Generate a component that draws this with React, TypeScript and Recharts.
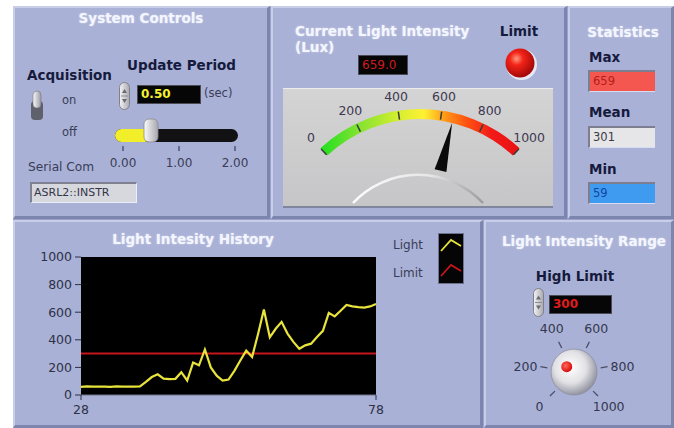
import React from "react";
import {
  Bar,
  BarChart,
  CartesianGrid,
  Legend,
  Line,
  LineChart,
  PolarAngleAxis,
  RadialBar,
  RadialBarChart,
  ReferenceLine,
  XAxis,
  YAxis,
} from "recharts";

// history graph
const historyTime = [
  28, 29, 30, 31, 32, 33, 34, 35, 36, 37, 38, 39, 40, 41, 42, 43, 44, 45, 46, 47, 48, 49, 50, 51, 52,
  53, 54, 55, 56, 57, 58, 59, 60, 61, 62, 63, 64, 65, 66, 67, 68, 69, 70, 71, 72, 73, 74, 75, 76, 77, 78,
];
const historyLux = [
  59, 62, 60, 61, 60, 59, 62, 60, 61, 60, 63, 95, 130, 150, 118, 115, 117, 165, 105, 235, 215, 330, 200,
  140, 105, 112, 175, 250, 322, 275, 440, 620, 418, 480, 530, 445, 385, 335, 360, 372, 420, 465, 595,
  570, 610, 652, 642, 637, 633, 642, 659,
];
const historyYTicks = [0, 200, 400, 600, 800, 1000];
const historyXTicks = [28, 78];
const legendItems = [
  { label: "Light", color: "#e8e43c" },
  { label: "Limit", color: "#c4161c" },
];

// indicators
const currentLux = 659.0;
const gaugeTicks = [0, 200, 400, 600, 800, 1000];
const statMax = 659;
const statMean = 301;
const statMin = 59;

// controls
const highLimit = 300;
const knobTicks = [0, 200, 400, 600, 800, 1000];
const updatePeriod = 0.5;
const periodTicks = [0, 1, 2];
const serialPort = "ASRL2::INSTR";

const FONT = '"DejaVu Sans", Verdana, sans-serif';
const LABEL = "#161a3c";
const SOFT = "#3a3d58";

const historyData = historyTime.map((t, i) => ({ t, light: historyLux[i] }));
const gaugeData = [{ name: "lux", lux: currentLux }];
const knobData = [{ name: "high", limit: highLimit }];
const periodData = [{ name: "period", value: updatePeriod }];

function polar(cx: number, cy: number, r: number, deg: number) {
  const a = (-deg * Math.PI) / 180;
  return { x: cx + r * Math.cos(a), y: cy + r * Math.sin(a) };
}

function Panel({ x, y, w, h }: { x: number; y: number; w: number; h: number }) {
  return (
    <div
      style={{
        position: "absolute",
        left: x,
        top: y,
        width: w,
        height: h,
        boxSizing: "border-box",
        background: "#a9b1d6",
        borderTop: "2px solid #c8cee9",
        borderLeft: "2px solid #c8cee9",
        borderRight: "3px solid #7c85ae",
        borderBottom: "3px solid #7c85ae",
      }}
    />
  );
}

function Txt(props: {
  x: number;
  y: number;
  children: React.ReactNode;
  size?: number;
  bold?: boolean;
  color?: string;
  center?: boolean;
  title?: boolean;
}) {
  const { x, y, children, bold, color = LABEL, center, title } = props;
  const size = props.size ?? (bold || title ? 13.5 : 12);
  return (
    <div
      style={{
        position: "absolute",
        left: x,
        top: y,
        transform: `translate(${center ? "-50%" : "0"}, -50%)`,
        fontSize: size,
        lineHeight: `${size}px`,
        fontWeight: bold || title ? 700 : 400,
        color: title ? "#f4f6ff" : color,
        whiteSpace: "nowrap",
        textShadow: title ? "0 0 2px rgba(255,255,255,0.55)" : undefined,
      }}
    >
      {children}
    </div>
  );
}

function Display(props: { x: number; y: number; w: number; h: number; text: string; color: string; bold?: boolean }) {
  const { x, y, w, h, text, color, bold } = props;
  return (
    <div
      style={{
        position: "absolute",
        left: x,
        top: y,
        width: w,
        height: h,
        boxSizing: "border-box",
        background: "#060606",
        border: "1px solid #4a4a55",
        color,
        fontSize: 12,
        fontWeight: bold ? 700 : 400,
        lineHeight: `${h - 2}px`,
        paddingLeft: 3,
      }}
    >
      {text}
    </div>
  );
}

function StatBox(props: { y: number; text: string; bg: string; color: string }) {
  return (
    <div
      style={{
        position: "absolute",
        left: 588,
        top: props.y,
        width: 67,
        height: 22,
        boxSizing: "border-box",
        background: props.bg,
        borderTop: "2px solid #7d7f90",
        borderLeft: "2px solid #7d7f90",
        borderBottom: "1px solid #d8dcf0",
        color: props.color,
        fontSize: 11.5,
        lineHeight: "19px",
        paddingLeft: 3,
      }}
    >
      {props.text}
    </div>
  );
}

function Spinner({ x, y, h }: { x: number; y: number; h: number }) {
  return (
    <svg style={{ position: "absolute", left: x, top: y }} width={11} height={h}>
      <defs>
        <linearGradient id={`spin${x}`} x1="0" y1="0" x2="1" y2="0">
          <stop offset="0" stopColor="#f4f4f4" />
          <stop offset="1" stopColor="#a8a8b0" />
        </linearGradient>
      </defs>
      <rect x={0.5} y={0.5} width={10} height={h - 1} rx={5} fill={`url(#spin${x})`} stroke="#80808a" />
      <path d={`M3 ${h / 2 - 3} L5.5 ${h / 2 - 7} L8 ${h / 2 - 3} Z`} fill="#6a6a72" />
      <path d={`M3 ${h / 2 + 3} L5.5 ${h / 2 + 7} L8 ${h / 2 + 3} Z`} fill="#6a6a72" />
      <line x1={2} x2={9} y1={h / 2} y2={h / 2} stroke="#8a8a92" />
    </svg>
  );
}

function HistoryLegend() {
  return (
    <div style={{ position: "relative", width: 72, height: 52, fontFamily: FONT }}>
      {legendItems.map((it, i) => (
        <div key={it.label} style={{ position: "absolute", left: 0, top: 5 + i * 28, fontSize: 12, color: SOFT }}>
          {it.label}
        </div>
      ))}
      <svg style={{ position: "absolute", left: 45, top: 0 }} width={26} height={51}>
        <rect x={0.5} y={0.5} width={25} height={50} fill="#050505" stroke="#6c7190" />
        {legendItems.map((it, i) => (
          <polyline
            key={it.label}
            points={`3,${18 + i * 25} 13,${7 + i * 25} 23,${13 + i * 25}`}
            fill="none"
            stroke={it.color}
            strokeWidth={1.8}
          />
        ))}
      </svg>
    </div>
  );
}

function GaugeTick(props: any) {
  const { x, y, cx, cy, payload } = props;
  const a = payload.coordinate;
  const c =
    typeof cx === "number" && typeof cy === "number"
      ? { x: cx, y: cy }
      : { x: x - polar(0, 0, 154, a).x, y: y - polar(0, 0, 154, a).y };
  const t1 = polar(c.x, c.y, 137, a);
  const t2 = polar(c.x, c.y, 145, a);
  const lp = polar(c.x, c.y, 160, a);
  return (
    <g>
      <line x1={t1.x} y1={t1.y} x2={t2.x} y2={t2.y} stroke="#3a3a3a" strokeWidth={1.5} />
      <text x={lp.x} y={lp.y} textAnchor="middle" dominantBaseline="central" fontSize={12.5} fill="#3e3852" fontFamily={FONT}>
        {payload.value}
      </text>
    </g>
  );
}

function GaugeNeedle(props: any) {
  const { cx, cy, endAngle } = props;
  const tip = polar(cx, cy, 136, endAngle);
  const b1 = polar(cx, cy, 87, endAngle + 4);
  const b2 = polar(cx, cy, 87, endAngle - 4);
  const hubL = { x: cx - 67, y: cy - 52 };
  const hubR = { x: cx + 63, y: cy - 52 };
  return (
    <g>
      <path
        d={`M${hubL.x} ${hubL.y} A89 89 0 0 1 ${hubR.x} ${hubR.y}`}
        fill="none"
        stroke="url(#hubArc)"
        strokeWidth={2.5}
      />
      <polygon points={`${tip.x},${tip.y} ${b1.x},${b1.y} ${b2.x},${b2.y}`} fill="#0a0a0a" />
    </g>
  );
}

function KnobTick(props: any) {
  const { x, y, cx, cy, payload } = props;
  const a = payload.coordinate;
  const c =
    typeof cx === "number" && typeof cy === "number"
      ? { x: cx, y: cy }
      : { x: x - polar(0, 0, 38, a).x, y: y - polar(0, 0, 38, a).y };
  const t1 = polar(c.x, c.y, 27, a);
  const t2 = polar(c.x, c.y, 34, a);
  const cos = Math.cos((a * Math.PI) / 180);
  const side = Math.abs(cos) > 0.8;
  const lp = polar(c.x, c.y, side ? 37 : 49, a);
  return (
    <g>
      <line x1={t1.x} y1={t1.y} x2={t2.x} y2={t2.y} stroke="#4a4c66" strokeWidth={1.3} />
      <text
        x={lp.x}
        y={lp.y}
        textAnchor={side ? (cos > 0 ? "start" : "end") : "middle"}
        dominantBaseline="central"
        fontSize={12.5}
        fill="#34374f"
        fontFamily={FONT}
      >
        {payload.value}
      </text>
    </g>
  );
}

function KnobShape(props: any) {
  const { cx, cy, endAngle } = props;
  const dot = polar(cx, cy, 9, endAngle);
  return (
    <g>
      <circle cx={cx} cy={cy} r={23} fill="url(#knobFace)" stroke="#8c8ea0" strokeWidth={0.8} />
      <circle cx={dot.x} cy={dot.y} r={5.5} fill="url(#knobDot)" />
    </g>
  );
}

function SliderTrack(props: any) {
  const { x, y, width, height } = props;
  return <rect x={x - 8} y={y} width={width + 11} height={height} rx={height / 2} fill="#121214" />;
}

function SliderFill(props: any) {
  const { x, y, width, height } = props;
  const end = x + width;
  return (
    <g>
      <rect x={x - 8} y={y} width={width + 8} height={height} rx={height / 2} fill="#f2ee2a" />
      <rect x={end - 7} y={y - 10} width={14} height={height + 10} rx={5} fill="url(#thumb)" stroke="#8a8a90" strokeWidth={0.8} />
    </g>
  );
}

function PeriodTick(props: any) {
  const { x, y, payload } = props;
  return (
    <g>
      <line x1={x} x2={x} y1={y - 8} y2={y - 3} stroke="#3a3d58" strokeWidth={1.2} />
      <text x={x} y={y + 13} textAnchor="middle" fontSize={12} fill={SOFT} fontFamily={FONT}>
        {Number(payload.value).toFixed(2)}
      </text>
    </g>
  );
}

export default function App() {
  return (
    <div
      style={{
        position: "fixed",
        left: 0,
        top: 0,
        width: 674,
        height: 428,
        overflow: "hidden",
        background: "#ffffff",
        fontFamily: FONT,
      }}
    >
      <div style={{ position: "absolute", left: 13, top: 6, width: 661, height: 422, background: "#9aa2c9" }} />
      <Panel x={13} y={6} w={257} h={213} />
      <Panel x={271} y={6} w={296} h={213} />
      <Panel x={568} y={6} w={106} h={213} />
      <Panel x={13} y={220} w={470} h={208} />
      <Panel x={484} y={220} w={190} h={208} />

      {/* System Controls */}
      <Txt x={141} y={19} title center>System Controls</Txt>
      <Txt x={27} y={76} bold>Acquisition</Txt>
      <Txt x={127} y={66} bold>Update Period</Txt>
      <svg style={{ position: "absolute", left: 28, top: 89 }} width={18} height={32}>
        <defs>
          <linearGradient id="lever" x1="0" y1="0" x2="1" y2="0">
            <stop offset="0" stopColor="#fafafa" />
            <stop offset="1" stopColor="#9a9aa4" />
          </linearGradient>
        </defs>
        <rect x={3} y={12} width={12} height={19} rx={4} fill="#5e606c" />
        <rect x={5} y={2} width={8} height={17} rx={4} fill="url(#lever)" stroke="#77777f" strokeWidth={0.6} />
      </svg>
      <Txt x={62} y={101} size={11.5} color={SOFT}>on</Txt>
      <Txt x={62} y={133} size={11.5} color={SOFT}>off</Txt>
      <Spinner x={119} y={82} h={28} />
      <Display x={137} y={85} w={64} h={19} text={updatePeriod.toFixed(2)} color="#f4f22e" bold />
      <Txt x={204} y={94} size={11.5} color={SOFT}>(sec)</Txt>
      <div style={{ position: "absolute", left: 109, top: 115 }}>
        <BarChart
          layout="vertical"
          width={140}
          height={58}
          data={periodData}
          margin={{ top: 13, right: 14, bottom: 0, left: 14 }}
        >
          <defs>
            <linearGradient id="thumb" x1="0" y1="0" x2="1" y2="0">
              <stop offset="0" stopColor="#fbfbfb" />
              <stop offset="1" stopColor="#a6a6ae" />
            </linearGradient>
          </defs>
          <XAxis
            type="number"
            domain={[0, 2]}
            ticks={periodTicks}
            axisLine={false}
            tickLine={false}
            tickSize={10}
            tickMargin={2}
            height={31}
            tick={PeriodTick}
            interval={0}
          />
          <YAxis type="category" dataKey="name" hide />
          <Bar dataKey="value" barSize={13} background={SliderTrack} shape={SliderFill} isAnimationActive={false} />
        </BarChart>
      </div>
      <Txt x={28} y={167} size={12.2} color={SOFT}>Serial Com</Txt>
      <div
        style={{
          position: "absolute",
          left: 30,
          top: 182,
          width: 107,
          height: 21,
          boxSizing: "border-box",
          background: "#d7d8de",
          borderTop: "2px solid #7f8193",
          borderLeft: "2px solid #7f8193",
          borderBottom: "1px solid #eceef8",
          borderRight: "1px solid #eceef8",
          fontSize: 11,
          lineHeight: "18px",
          color: "#33354a",
          paddingLeft: 2,
        }}
      >
        {serialPort}
      </div>

      {/* Current Light Intensity */}
      <Txt x={295} y={32} title>Current Light Intensity</Txt>
      <Txt x={295} y={47.5} title>(Lux)</Txt>
      <Display x={358} y={55} w={50} h={20} text={currentLux.toFixed(1)} color="#d21a1a" />
      <Txt x={519} y={32} bold center>Limit</Txt>
      <svg style={{ position: "absolute", left: 502, top: 45 }} width={37} height={37}>
        <defs>
          <radialGradient id="led" cx="0.38" cy="0.35" r="0.65">
            <stop offset="0" stopColor="#ff9a80" />
            <stop offset="0.35" stopColor="#f42418" />
            <stop offset="1" stopColor="#a40808" />
          </radialGradient>
        </defs>
        <circle cx={19.5} cy={19.5} r={15.5} fill="#e6e8f4" />
        <circle cx={18} cy={18} r={14.5} fill="url(#led)" />
      </svg>
      <div
        style={{
          position: "absolute",
          left: 283,
          top: 88,
          width: 270,
          height: 120,
          boxSizing: "border-box",
          background: "linear-gradient(#d4d4d4, #c6c6c8)",
          borderTop: "1px solid #ececf0",
          borderBottom: "2px solid #80869e",
          overflow: "hidden",
        }}
      >
        <RadialBarChart
          width={270}
          height={117}
          cx={137}
          cy={166}
          innerRadius={136}
          outerRadius={146}
          startAngle={133}
          endAngle={47}
          barCategoryGap={0}
          data={gaugeData}
          margin={{ top: 0, right: 0, bottom: 0, left: 0 }}
        >
          <defs>
            <linearGradient id="gaugeBand" x1="0" y1="0" x2="1" y2="0">
              <stop offset="0" stopColor="#1fe01f" />
              <stop offset="0.19" stopColor="#82e232" />
              <stop offset="0.39" stopColor="#d4ee30" />
              <stop offset="0.52" stopColor="#fff232" />
              <stop offset="0.62" stopColor="#ff9c18" />
              <stop offset="0.73" stopColor="#ff5412" />
              <stop offset="0.86" stopColor="#f21a18" />
              <stop offset="1" stopColor="#e81212" />
            </linearGradient>
            <linearGradient id="hubArc" x1="0" y1="0" x2="1" y2="0">
              <stop offset="0" stopColor="#fdfdfd" />
              <stop offset="0.6" stopColor="#e6e6e6" />
              <stop offset="1" stopColor="#9a9aa0" />
            </linearGradient>
          </defs>
          <PolarAngleAxis
            type="number"
            domain={[0, 1000]}
            ticks={gaugeTicks}
            axisLine={false}
            tickLine={false}
            tick={GaugeTick}
          />
          <RadialBar
            dataKey="lux"
            background={{ fill: "url(#gaugeBand)" }}
            shape={GaugeNeedle}
            isAnimationActive={false}
          />
        </RadialBarChart>
      </div>

      {/* Statistics */}
      <Txt x={623} y={33} title center>Statistics</Txt>
      <Txt x={589} y={58} bold>Max</Txt>
      <StatBox y={70} text={String(statMax)} bg="#f4574f" color="#b3201c" />
      <Txt x={589} y={113} bold>Mean</Txt>
      <StatBox y={126} text={String(statMean)} bg="#e6e6e8" color="#3a3a44" />
      <Txt x={589} y={170} bold>Min</Txt>
      <StatBox y={182} text={String(statMin)} bg="#3e9bf0" color="#1446a0" />

      {/* History */}
      <Txt x={193} y={240} title center>Light Intesity History</Txt>
      <div style={{ position: "absolute", left: 20, top: 240 }}>
        <LineChart width={460} height={186} data={historyData} margin={{ top: 17, right: 104, bottom: 6, left: 0 }}>
          <CartesianGrid horizontal={false} vertical={false} fill="#000000" />
          <XAxis
            dataKey="t"
            type="number"
            domain={[28, 78]}
            ticks={historyXTicks}
            height={25}
            tickSize={5}
            tickMargin={5}
            axisLine={{ stroke: "#6e7288" }}
            tickLine={{ stroke: "#2e3046" }}
            tick={{ fill: "#2e3046", fontSize: 12.5, fontFamily: FONT }}
          />
          <YAxis
            type="number"
            domain={[0, 1000]}
            ticks={historyYTicks}
            interval={0}
            width={61}
            axisLine={false}
            tickSize={6}
            tickMargin={3}
            tickLine={{ stroke: "#2e3046" }}
            tick={{ fill: "#2e3046", fontSize: 12.5, fontFamily: FONT }}
          />
          <ReferenceLine y={highLimit} stroke="#c4161c" strokeWidth={2} />
          <Line
            type="linear"
            dataKey="light"
            name="Light"
            stroke="#e8e43c"
            strokeWidth={2.2}
            dot={false}
            isAnimationActive={false}
          />
          <Legend
            layout="vertical"
            align="center"
            verticalAlign="middle"
            content={HistoryLegend}
            wrapperStyle={{ left: 373, top: -7, width: 72, height: 52 }}
          />
        </LineChart>
      </div>

      {/* Light Intensity Range */}
      <Txt x={584} y={242} title center>Light Intensity Range</Txt>
      <div style={{ position: "absolute", left: 509, top: 307 }}>
        <RadialBarChart
          width={130}
          height={121}
          cx={65}
          cy={65}
          innerRadius={22}
          outerRadius={30}
          startAngle={225}
          endAngle={-45}
          data={knobData}
          margin={{ top: 0, right: 0, bottom: 0, left: 0 }}
        >
          <defs>
            <radialGradient id="knobFace" cx="0.42" cy="0.4" r="0.62">
              <stop offset="0" stopColor="#ffffff" />
              <stop offset="0.55" stopColor="#e2e2e6" />
              <stop offset="1" stopColor="#8e909c" />
            </radialGradient>
            <radialGradient id="knobDot" cx="0.4" cy="0.4" r="0.6">
              <stop offset="0" stopColor="#ff6a5a" />
              <stop offset="1" stopColor="#d80c0c" />
            </radialGradient>
          </defs>
          <PolarAngleAxis
            type="number"
            domain={[0, 1000]}
            ticks={knobTicks}
            axisLine={false}
            tickLine={false}
            tick={KnobTick}
          />
          <RadialBar dataKey="limit" shape={KnobShape} isAnimationActive={false} />
        </RadialBarChart>
      </div>
      <Txt x={575} y={277} bold center>High Limit</Txt>
      <Spinner x={533} y={288} h={29} />
      <Display x={549} y={295} w={63} h={19} text={String(highLimit)} color="#e01c1c" bold />
    </div>
  );
}
